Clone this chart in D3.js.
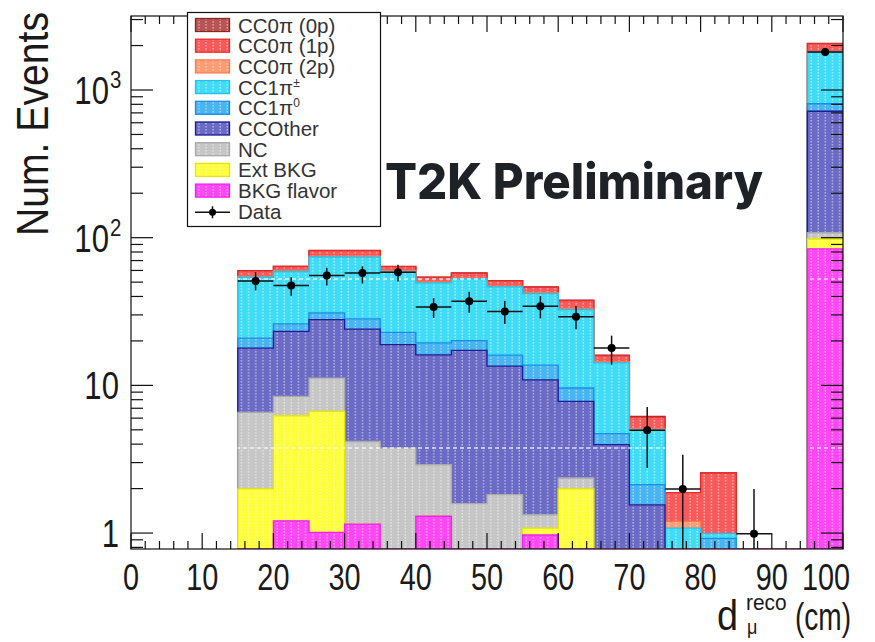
<!DOCTYPE html>
<html><head><meta charset="utf-8">
<script src="https://cdn.jsdelivr.net/npm/d3@7"></script>
<style>body{margin:0;background:#fff}svg{display:block}</style>
</head><body><svg id="c" width="875" height="642"></svg>
<script>
// ---------- data ----------
const binLow = [15,20,25,30,35,40,45,50,55,60,65,70,75,80,85,90,95];
const binWidth = 5;
// stacked components (bottom -> top)
const bkgFlavor = [0,1.21,1.01,1.15,0,1.30,0,0,0.97,0,0,0,0,0,0,0,84];
const extBkg    = [1.99,5.02,5.66,0,0,0,0,0,0.11,1.99,0,0,0,0,0,0,14];
const nc        = [4.57,2.19,4.53,3.02,3.77,1.60,1.58,1.82,0.25,0.37,0,0,0,0,0,0,10];
const ccOther   = [11.3,14.8,16.7,19.9,15.1,13.2,15.7,11.7,9.57,5.43,3.97,1.55,0,0,0,0,610];
const cc1pi0    = [3.0,2.9,3.1,4.1,4.0,3.3,2.8,2.5,2.8,1.81,0.74,0.58,0,0.92,0,0,89];
const cc1piPM   = [33.1,32.9,43,45.8,36.1,30,32.5,30.4,28.1,23,9.49,2.87,1.08,0.07,0,0,996];
const cc0pi2p   = [0.8,0.8,1.0,1.0,0.8,0.7,0.7,0.6,0.6,0.6,0.3,0.1,0.12,0,0,0,15];
const cc0pi1p   = [4.8,4.0,6.7,6.7,4.0,3.7,4.2,4.0,3.8,4.3,1.4,1.0,0.68,1.56,0,0,240];
const cc0pi0p   = [0.2,0.2,0.3,0.3,0.2,0.2,0.2,0.2,0.2,0.2,0.1,0.07,0,0,0,0,7];

const dataX  = [17.5,22.5,27.5,32.5,37.5,42.5,47.5,52.5,57.5,62.5,67.5,72.5,77.5,87.5,97.5];
const dataY  = [51,47.4,55.4,57.7,58.3,34,37.1,31.7,34.3,29.1,17.9,4.96,1.99,0.99,1805];
const dataLo = [44,40.4,47.4,49,50.5,28.6,31,26,28.4,24,13.8,2.76,0,0,1760];
const dataHi = [58.4,54,62.5,64,65.5,39,43,37.4,40.2,34.5,21.7,7.15,3.39,1.99,1850];

const xTicks = [0,10,20,30,40,50,60,70,80,90,100];
const xTickLabels = ["0","10","20","30","40","50","60","70","80","90","100"];
const yTicks = [1,10,100,1000];
const yTickLabels = ["1","10","10","10"];
const yTickSups = ["","","2","3"];

const legendLabels = ["CC0π (0p)","CC0π (1p)","CC0π (2p)","CC1π","CC1π","CCOther","NC","Ext BKG","BKG flavor","Data"];
const legendSups   = ["","","","±","0","","","","",""];

// ---------- styles ----------
const stackOrder = [bkgFlavor, extBkg, nc, ccOther, cc1pi0, cc1piPM, cc0pi2p, cc0pi1p, cc0pi0p];
const fills = ["#ff48f4","#ffff3c","#c6c6c6","#6b6bc6","#48b4f0","#40dcf6","#ff9c74","#f65a5a","#b85454"];
const lines = ["#f020ee","#e6e600","#aaaaaa","#1c1c96","#1a8ee6","#22c2f0","#ff7a48","#ec2a2a","#8c2424"];

const svg = d3.select("#c");
const x = d3.scaleLinear().domain([0,100]).range([131,843]);
const ymin = 0.78;
const y = d3.scaleLog().domain([ymin,3170]).range([549,16]);
const yBot = y(ymin), yTop = y(3170);

const defs = svg.append("defs");
fills.forEach((c,i)=>{
  const p = defs.append("pattern").attr("id","pat"+i).attr("patternUnits","userSpaceOnUse")
    .attr("width",7.12).attr("height",3).attr("x",x(0));
  p.append("rect").attr("width",7.12).attr("height",3).attr("fill",c);
  p.append("rect").attr("x",3.2).attr("y",0).attr("width",1.1).attr("height",1.6).attr("fill","#fff").attr("opacity",0.6);
});
defs.append("clipPath").attr("id","plotclip").append("rect")
  .attr("x",x(0)).attr("y",yTop).attr("width",x(100)-x(0)).attr("height",yBot-yTop);

// cumulative sums
const cums = [];
stackOrder.forEach((s,k)=>{
  cums.push(s.map((v,i)=> v + (k>0 ? cums[k-1][i] : 0)));
});
function histPath(cum){
  let d = `M${x(binLow[0])},${yBot}`;
  cum.forEach((v,i)=>{
    const yy = v>ymin ? y(v) : yBot;
    d += `L${x(binLow[i])},${yy}L${x(binLow[i]+binWidth)},${yy}`;
  });
  d += `L${x(binLow[binLow.length-1]+binWidth)},${yBot}Z`;
  return d;
}
const gBars = svg.append("g").attr("clip-path","url(#plotclip)");
for(let k=stackOrder.length-1;k>=0;k--){
  gBars.append("path").attr("d",histPath(cums[k]))
    .attr("fill",`url(#pat${k})`).attr("stroke",lines[k]).attr("stroke-width",1.3);
}
// pattern artifact lines (white dashed) clipped to total
defs.append("clipPath").attr("id","totclip").append("path").attr("d",histPath(cums[cums.length-1]));
const gArt = svg.append("g").attr("clip-path","url(#totclip)");
[279,448].forEach(yy=>{
  gArt.append("line").attr("x1",x(0)).attr("x2",x(100)).attr("y1",yy).attr("y2",yy)
    .attr("stroke","#fff").attr("stroke-width",1.6).attr("stroke-dasharray","4,3").attr("opacity",0.75);
});

// data
const gData = svg.append("g").attr("clip-path","url(#plotclip)");
dataX.forEach((dx,i)=>{
  const cy = y(dataY[i]);
  gData.append("line").attr("x1",x(dx-2.5)).attr("x2",x(dx+2.5)).attr("y1",cy).attr("y2",cy)
    .attr("stroke","#111").attr("stroke-width",1.5);
  gData.append("line").attr("x1",x(dx)).attr("x2",x(dx))
    .attr("y1",dataLo[i]>ymin?y(dataLo[i]):yBot).attr("y2",y(dataHi[i]))
    .attr("stroke","#111").attr("stroke-width",1.5);
  gData.append("circle").attr("cx",x(dx)).attr("cy",cy).attr("r",4).attr("fill","#000");
});

// frame & ticks
const gAx = svg.append("g").attr("stroke","#111").attr("stroke-width",1.2);
gAx.append("rect").attr("x",x(0)).attr("y",yTop).attr("width",x(100)-x(0)).attr("height",yBot-yTop).attr("fill","none");
for(let v=0; v<=100; v+=2){
  const L = (v%10===0)?16:8;
  gAx.append("line").attr("x1",x(v)).attr("x2",x(v)).attr("y1",yBot).attr("y2",yBot-L);
  gAx.append("line").attr("x1",x(v)).attr("x2",x(v)).attr("y1",yTop).attr("y2",yTop+L);
}
[0.1,1,10,100,1000].forEach(dec=>{
  for(let m=1;m<10;m++){
    const v = dec*m;
    if(v<ymin || v>3170) continue;
    const L = (m===1)?22:12;
    gAx.append("line").attr("x1",x(0)).attr("x2",x(0)+L).attr("y1",y(v)).attr("y2",y(v));
    gAx.append("line").attr("x1",x(100)).attr("x2",x(100)-L).attr("y1",y(v)).attr("y2",y(v));
  }
});

function txt(g,tx,ty,s,size,anchor,sx){
  return g.append("text").attr("transform",`translate(${tx},${ty}) scale(${sx},1)`)
    .attr("text-anchor",anchor).attr("font-size",size).text(s);
}
const gT = svg.append("g").attr("font-family","'Liberation Sans', Arial, sans-serif").attr("fill","#1a1a1a");
xTicks.forEach((v,i)=>{
  const cx = (v===100) ? x(v)-17 : x(v);
  txt(gT,cx,590,xTickLabels[i],37,"middle",0.78);
});
yTicks.forEach((v,i)=>{
  if(yTickSups[i]){
    txt(gT,109,y(v)+14,yTickLabels[i],38,"end",0.82);
    txt(gT,110,y(v)-2,yTickSups[i],24,"start",0.85);
  } else {
    txt(gT,119,y(v)+14,yTickLabels[i],38,"end",0.82);
  }
});
// y title
gT.append("text").attr("transform","translate(48,124) rotate(-90) scale(0.87,1)")
  .attr("text-anchor","middle").attr("font-size",45).text("Num. Events");
// x title
txt(gT,717,630,"d",42,"start",0.9);
txt(gT,746,610,"reco",22,"start",0.95);
txt(gT,747,634,"μ",20,"start",0.9);
txt(gT,851,630,"(cm)",39,"end",0.72);

// legend
const gL = svg.append("g");
gL.append("rect").attr("x",187.5).attr("y",12.5).attr("width",193).attr("height",214)
  .attr("fill","#fff").attr("stroke","#111").attr("stroke-width",1.2);
legendLabels.forEach((lab,i)=>{
  const cy = 25 + i*20.7;
  if(i<9){
    const k = 8-i;
    gL.append("rect").attr("x",195.5).attr("y",cy-6.5).attr("width",34).attr("height",13)
      .attr("fill",`url(#pat${k})`).attr("stroke",lines[k]).attr("stroke-width",1.3);
  } else {
    gL.append("line").attr("x1",195).attr("x2",230).attr("y1",cy+1).attr("y2",cy+1).attr("stroke","#111").attr("stroke-width",1.5);
    gL.append("line").attr("x1",212.5).attr("x2",212.5).attr("y1",cy-5).attr("y2",cy+7).attr("stroke","#111").attr("stroke-width",1.5);
    gL.append("circle").attr("cx",212.5).attr("cy",cy+1).attr("r",3.5).attr("fill","#000");
  }
  const t = gL.append("text").attr("x",238).attr("y",cy+7.5).attr("font-size",20.5)
    .attr("font-family","'Liberation Sans', Arial, sans-serif").attr("fill","#333").text(lab);
  if(legendSups[i]) t.append("tspan").attr("dy",-8).attr("font-size",12).text(legendSups[i]);
});

// T2K Preliminary
svg.append("text").attr("x",385).attr("y",199).attr("font-family","Inter, 'Open Sans', sans-serif")
  .attr("font-weight",800).attr("font-size",50).attr("fill","#1e2227")
  .attr("textLength",378).attr("lengthAdjust","spacingAndGlyphs").text("T2K Preliminary");
</script></body></html>
